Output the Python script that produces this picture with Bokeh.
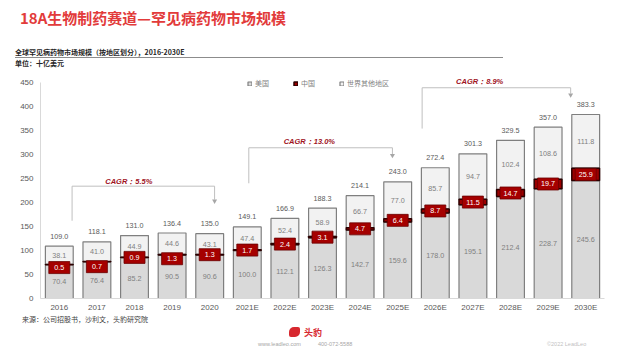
from bokeh.plotting import figure
from bokeh.layouts import column
from bokeh.models import (ColumnDataSource, FactorRange, LabelSet, Label, Legend, LegendItem, Div)
from bokeh.core.properties import value
from bokeh.embed import file_html
from bokeh.resources import INLINE

years = ["2016", "2017", "2018", "2019", "2020", "2021E", "2022E", "2023E", "2024E",
         "2025E", "2026E", "2027E", "2028E", "2029E", "2030E"]
us = [70.4, 76.4, 85.2, 90.5, 90.6, 100.0, 112.1, 126.3, 142.7, 159.6, 178.0, 195.1, 212.4, 228.7, 245.6]
china = [0.5, 0.7, 0.9, 1.3, 1.3, 1.7, 2.4, 3.1, 4.7, 6.4, 8.7, 11.5, 14.7, 19.7, 25.9]
row = [38.1, 41.0, 44.9, 44.6, 43.1, 47.4, 52.4, 58.9, 66.7, 77.0, 85.7, 94.7, 102.4, 108.6, 111.8]
totals = [109.0, 118.1, 131.0, 136.4, 135.0, 149.1, 166.9, 188.3, 214.1, 243.0, 272.4, 301.3, 329.5, 357.0, 383.3]
y_ticks = [0, 50, 100, 150, 200, 250, 300, 350, 400, 450]

# CAGR annotations
cagr_text = ["CAGR：5.5%", "CAGR：13.0%", "CAGR：8.9%"]
cagr_x0 = [0.84, 5.54, 10.15]
cagr_x1 = [4.63, 9.36, 14.10]
cagr_ybot = [162, 240, 354]
cagr_ytop = [234, 314, 439]
cagr_yarrow = [200, 295, 421]
cagr_tx = [2.35, 7.15, 11.68]
cagr_ty = [244, 327, 453]

# small downward nudges (px) of the China value boxes, as in the reference
cn_box_dy = [3, 5, 0, 4, 0, 0, 0, 0, 0, 0, 0, 0, 0, 0, 0]

CN_FONT = "Noto Sans CJK SC"
NUM_FONT = "Liberation Sans"

Y_END = 470.8
FRAME_H = 226
PX_PER_UNIT = FRAME_H / Y_END

cn_top = [u + c for u, c in zip(us, china)]
tot_top = [u + c + r for u, c, r in zip(us, china, row)]

src = ColumnDataSource(dict(
    x=years, us_top=us, cn_top=cn_top, tot_top=tot_top,
    us_mid=[u / 2 for u in us],
    cn_mid=[u + c / 2 - d / PX_PER_UNIT for u, c, d in zip(us, china, cn_box_dy)],
    row_mid=[u + c + r / 2 for u, c, r in zip(us, china, row)],
    us_lbl=[f"{v:.1f}" for v in us],
    cn_lbl=[f"{v:.1f}" for v in china],
    row_lbl=[f"{v:.1f}" for v in row],
    tot_lbl=[f"{v:.1f}" for v in totals],
))

p = figure(width=624, height=242, x_range=FactorRange(*years), y_range=(0, Y_END),
           output_backend="svg", toolbar_location=None,
           min_border_left=40, min_border_right=20, min_border_top=0, min_border_bottom=16)
p.outline_line_color = None
p.background_fill_color = "white"
p.xgrid.grid_line_color = None
p.ygrid.grid_line_color = None

W = 0.74
r_us = p.vbar(x="x", bottom=0, top="us_top", width=W, source=src,
              fill_color="#d9d9d9", line_color="#7f7f7f", line_width=1.2)
r_row = p.vbar(x="x", bottom="cn_top", top="tot_top", width=W, source=src,
               fill_color="#f2f2f2", line_color="#7f7f7f", line_width=1.2)
r_cn = p.vbar(x="x", bottom="us_top", top="cn_top", width=W, source=src,
              fill_color="#9b0000", line_color="#2a0000", line_width=1.5)

# China label boxes
p.rect(x="x", y="cn_mid", width=21, height=12, width_units="screen", height_units="screen",
       source=src, fill_color="#a50000", line_color="#6a0000", line_width=0.8)

# bar labels
p.add_layout(LabelSet(x="x", y="us_mid", text="us_lbl", source=src, text_align="center",
                      text_baseline="middle", text_font=value(NUM_FONT), text_font_size="7.2px",
                      text_color="#7f7f7f"))
p.add_layout(LabelSet(x="x", y="row_mid", text="row_lbl", source=src, text_align="center",
                      text_baseline="middle", text_font=value(NUM_FONT), text_font_size="7.2px",
                      text_color="#7f7f7f"))
p.add_layout(LabelSet(x="x", y="cn_mid", text="cn_lbl", source=src, text_align="center",
                      text_baseline="middle", text_font=value(NUM_FONT), text_font_size="7.2px",
                      text_color="white"))
p.add_layout(LabelSet(x="x", y="tot_top", text="tot_lbl", source=src, text_align="center",
                      text_baseline="middle", y_offset=10, text_font=value(NUM_FONT),
                      text_font_size="7.2px", text_color="#595959"))

# CAGR brackets
for i in range(3):
    p.line(x=[cagr_x0[i], cagr_x0[i], cagr_x1[i], cagr_x1[i]],
           y=[cagr_ybot[i], cagr_ytop[i], cagr_ytop[i], cagr_yarrow[i] + 6],
           line_color="#bfbfbf", line_width=1)
    p.scatter(x=[cagr_x1[i]], y=[cagr_yarrow[i] + 3], marker="inverted_triangle", size=5,
              fill_color="#a6a6a6", line_color=None)
    p.add_layout(Label(x=cagr_tx[i], y=cagr_ty[i], text=cagr_text[i], text_align="center",
                       text_baseline="middle", text_font=NUM_FONT, text_font_size="7.5px",
                       text_font_style="bold italic", text_color="#a0141e"))

# axes
p.yaxis.ticker = y_ticks
p.yaxis.bounds = (0, 450)
p.yaxis.axis_line_color = "#d9d9d9"
p.yaxis.major_tick_line_color = None
p.yaxis.major_tick_out = 0
p.yaxis.minor_tick_line_color = None
p.yaxis.major_label_standoff = 7
p.yaxis.major_label_text_font = NUM_FONT
p.yaxis.major_label_text_font_size = "8px"
p.yaxis.major_label_text_color = "#595959"
p.xaxis.axis_line_color = "#d9d9d9"
p.xaxis.major_tick_line_color = None
p.xaxis.major_tick_out = 0
p.xaxis.major_label_standoff = 4
p.xaxis.major_label_text_font = NUM_FONT
p.xaxis.major_label_text_font_size = "8px"
p.xaxis.major_label_text_color = "#595959"

# legend
legend = Legend(items=[LegendItem(label="美国", renderers=[r_us]),
                       LegendItem(label="中国", renderers=[r_cn]),
                       LegendItem(label="世界其他地区", renderers=[r_row])],
                orientation="horizontal", location=(207, 210), padding=0, margin=0,
                spacing=18, glyph_width=5, glyph_height=5, label_standoff=3,
                label_height=8, label_text_font=CN_FONT, label_text_font_size="7px",
                label_text_color="#7f7f7f", border_line_color=None,
                background_fill_alpha=0)
p.add_layout(legend, "center")

CN_CSS = "font-family:'Noto Sans CJK SC',sans-serif;"
NUM_CSS = "font-family:'Liberation Sans',sans-serif;"

def span(left, top, size, color, text, extra=""):
    return (f'<div style="position:absolute;left:{left}px;top:{top}px;font-size:{size}px;'
            f'line-height:{size}px;color:{color};white-space:nowrap;{extra}">{text}</div>')

header_html = ('<div style="position:relative;width:624px;height:72px;">'
               + span(20, 9.5, 15, "#e23b3b", "18A生物制药赛道—罕见病药物市场规模", CN_CSS + "font-weight:bold;")
               + span(15, 49, 7, "#262626", "全球罕见病药物市场规模（按地区划分），2016-2030E", CN_CSS + "font-weight:bold;")
               + '<div style="position:absolute;left:15px;top:57px;width:488px;height:1px;background:#8c8c8c;"></div>'
               + span(15, 60, 7, "#262626", "单位：十亿美元", CN_CSS + "font-weight:bold;")
               + '</div>')
footer_html = ('<div style="position:relative;width:624px;height:37px;">'
               + span(22, 1.5, 7, "#404040", "来源：公司招股书，沙利文，头豹研究院", CN_CSS)
               + '<div style="position:absolute;left:289px;top:13px;width:11px;height:10px;background:#d7282f;border-radius:5px 2px 5px 2px;"></div>'
               + span(304, 14, 9, "#d7282f", "头豹", CN_CSS + "font-weight:bold;")
               + span(258, 28, 5.5, "#a6a6a6", "www.leadleo.com", NUM_CSS)
               + span(318, 28, 5.5, "#a6a6a6", "400-072-5588", NUM_CSS)
               + span(547, 28, 5.5, "#bfbfbf", "©2022 LeadLeo", NUM_CSS)
               + '</div>')

header = Div(text=header_html, width=624, height=72, margin=0)
footer = Div(text=footer_html, width=624, height=37, margin=0)

layout = column(header, p, footer, spacing=0, margin=0)

open("out.html", "w").write(file_html(layout, INLINE))
